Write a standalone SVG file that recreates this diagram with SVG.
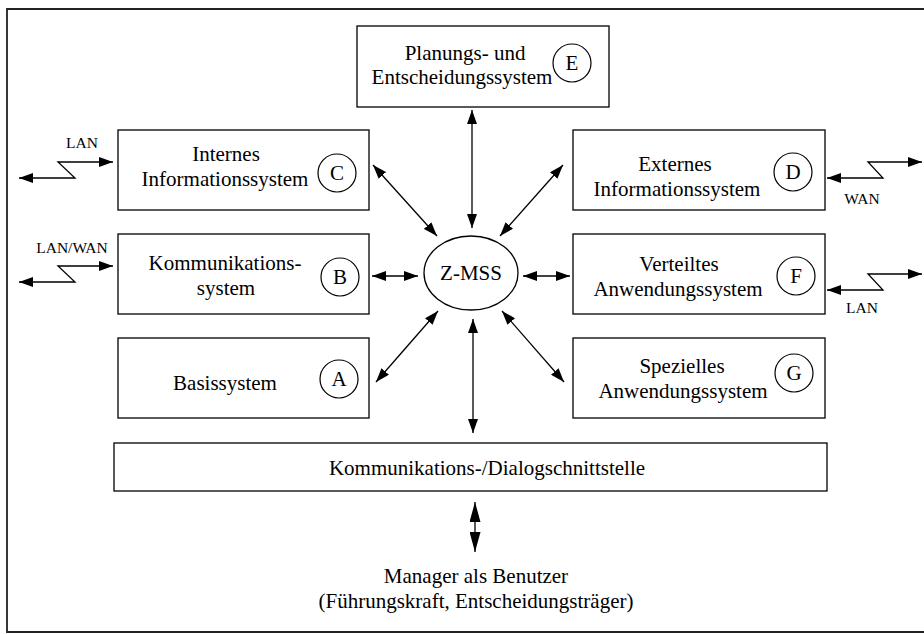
<svg xmlns="http://www.w3.org/2000/svg" width="924" height="634" viewBox="0 0 924 634" font-family="Liberation Serif, DejaVu Serif, serif">
<defs>
<style>
text{font-family:'Liberation Serif','DejaVu Serif',serif;fill:#000;text-anchor:middle}
.t{font-size:21px}
.s{font-size:15.5px}
.box{fill:#fff;stroke:#000;stroke-width:1.3}
.lt{fill:none;stroke:#000;stroke-width:1.3}
.c{fill:none;stroke:#000;stroke-width:1.2}
</style>
<marker id="ah" viewBox="0 0 14 10" refX="14" refY="5" markerWidth="14" markerHeight="10" markerUnits="userSpaceOnUse" orient="auto-start-reverse"><path d="M0,0 L14,5 L0,10 Z" fill="#000"/></marker>
<marker id="ahb" viewBox="0 0 20 11" refX="20" refY="5.5" markerWidth="20" markerHeight="11" markerUnits="userSpaceOnUse" orient="auto-start-reverse"><path d="M0,0 L20,5.5 L0,11 Z" fill="#000"/></marker>
</defs>
<rect x="0" y="0" width="924" height="634" fill="#fff"/>
<path d="M940,9 L7,9 L7,632 L940,632" fill="none" stroke="#222" stroke-width="1.8"/>

<g id="connectors">
<line class="lt" x1="472" y1="110" x2="472" y2="228" marker-start="url(#ah)" marker-end="url(#ah)"/>
<line class="lt" x1="373" y1="165" x2="437" y2="236" marker-start="url(#ah)" marker-end="url(#ah)"/>
<line class="lt" x1="563" y1="165" x2="500" y2="236" marker-start="url(#ah)" marker-end="url(#ah)"/>
<line class="lt" x1="372" y1="276" x2="418" y2="276" marker-start="url(#ah)" marker-end="url(#ah)"/>
<line class="lt" x1="523" y1="276" x2="570" y2="276" marker-start="url(#ah)" marker-end="url(#ah)"/>
<line class="lt" x1="376" y1="382" x2="438" y2="311" marker-start="url(#ah)" marker-end="url(#ah)"/>
<line class="lt" x1="564" y1="382" x2="502" y2="311" marker-start="url(#ah)" marker-end="url(#ah)"/>
<line class="lt" x1="473" y1="319" x2="473" y2="433" marker-start="url(#ah)" marker-end="url(#ah)"/>
<line class="lt" x1="475" y1="502" x2="475" y2="552" marker-start="url(#ahb)" marker-end="url(#ahb)"/>
<path class="lt" d="M19,178 L75,178 L58,162 L113,162" marker-start="url(#ah)" marker-end="url(#ah)"/>
<path class="lt" d="M19,282 L75,282 L58,266 L113,266" marker-start="url(#ah)" marker-end="url(#ah)"/>
<path class="lt" d="M827,178 L883,178 L868,162 L922,162" marker-start="url(#ah)" marker-end="url(#ah)"/>
<path class="lt" d="M827,290 L883,290 L868,274 L922,274" marker-start="url(#ah)" marker-end="url(#ah)"/>
<text class="s" x="82" y="148">LAN</text>
<text class="s" x="72" y="253">LAN/WAN</text>
<text class="s" x="862" y="204">WAN</text>
<text class="s" x="862" y="313">LAN</text>
</g>

<g id="nodeE">
<rect class="box" x="357" y="26" width="252" height="81"/>
<text class="t" x="465" y="60">Planungs- und</text>
<text class="t" x="462" y="84">Entscheidungssystem</text>
<circle class="c" cx="572" cy="63" r="19"/>
<text class="t" x="572" y="70">E</text>
</g>

<g id="nodeC">
<rect class="box" x="118" y="130" width="251" height="80"/>
<text class="t" x="226" y="161">Internes</text>
<text class="t" x="225" y="186">Informationssystem</text>
<circle class="c" cx="337" cy="173" r="19"/>
<text class="t" x="337" y="180">C</text>
</g>

<g id="nodeB">
<rect class="box" x="118" y="234" width="251" height="80"/>
<text class="t" x="225" y="270">Kommunikations-</text>
<text class="t" x="226" y="295">system</text>
<circle class="c" cx="340" cy="277" r="19"/>
<text class="t" x="340" y="284">B</text>
</g>

<g id="nodeA">
<rect class="box" x="118" y="338" width="251" height="80"/>
<text class="t" x="225" y="390">Basissystem</text>
<circle class="c" cx="339" cy="379" r="19"/>
<text class="t" x="339" y="386">A</text>
</g>

<g id="nodeD">
<rect class="box" x="573" y="130" width="252" height="80"/>
<text class="t" x="675" y="171">Externes</text>
<text class="t" x="677" y="196">Informationssystem</text>
<circle class="c" cx="793" cy="172" r="19"/>
<text class="t" x="793" y="179">D</text>
</g>

<g id="nodeF">
<rect class="box" x="573" y="234" width="252" height="80"/>
<text class="t" x="679" y="271">Verteiltes</text>
<text class="t" x="678" y="296">Anwendungssystem</text>
<circle class="c" cx="796" cy="276" r="19"/>
<text class="t" x="796" y="283">F</text>
</g>

<g id="nodeG">
<rect class="box" x="573" y="338" width="252" height="80"/>
<text class="t" x="682" y="373">Spezielles</text>
<text class="t" x="683" y="398">Anwendungssystem</text>
<circle class="c" cx="794" cy="373" r="19"/>
<text class="t" x="794" y="380">G</text>
</g>

<g id="nodeZ">
<ellipse class="box" cx="471" cy="273" rx="47" ry="37"/>
<text class="t" x="471" y="280">Z-MSS</text>
</g>

<g id="nodeInterface">
<rect class="box" x="114" y="443" width="713" height="48"/>
<text class="t" x="487" y="475">Kommunikations-/Dialogschnittstelle</text>
</g>

<g id="nodeManager">
<text class="t" x="476" y="583">Manager als Benutzer</text>
<text class="t" x="476" y="608">(Führungskraft, Entscheidungsträger)</text>
</g>
</svg>
